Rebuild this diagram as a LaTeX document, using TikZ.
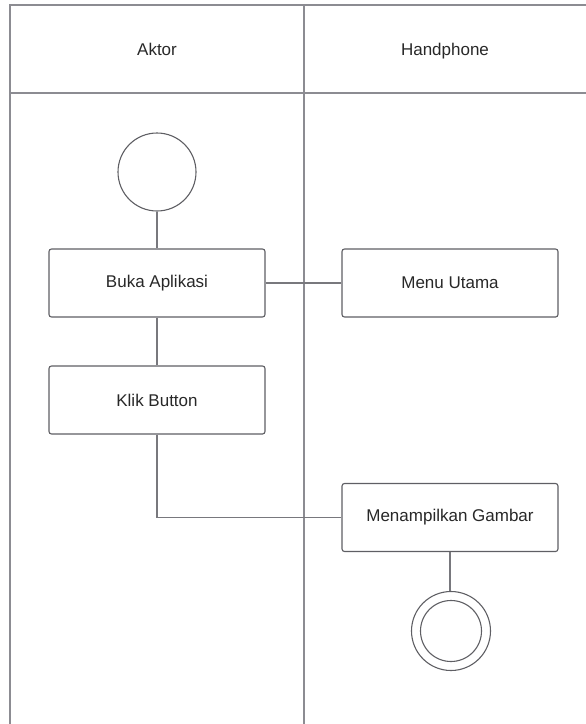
\documentclass[tikz,border=0pt]{standalone}
\usepackage{fontspec}
\setmainfont{Liberation Sans}
\definecolor{framegray}{RGB}{140,140,146}
\definecolor{boxgray}{RGB}{95,95,100}
\definecolor{linegray}{RGB}{120,120,125}
\definecolor{textgray}{RGB}{40,40,40}
\begin{document}
\begin{tikzpicture}[x=1pt,y=-1pt,
  frameline/.style={draw=framegray,line width=1.6pt},
  actbox/.style={draw=boxgray,line width=1.1pt,rounded corners=2.5pt,minimum width=216pt,minimum height=68pt,inner sep=0pt,font=\fontsize{17}{19}\selectfont,text=textgray,fill=white},
  conn/.style={draw=linegray,line width=1.4pt},
  lbl/.style={font=\fontsize{17}{19}\selectfont,text=textgray,inner sep=0pt,anchor=base}]
\useasboundingbox (0,0) rectangle (586,724);
% swimlane frame
\coordinate (tl) at (10,5);
\coordinate (tr) at (586,5);
\coordinate (hl) at (10,93);
\coordinate (hr) at (586,93);
\coordinate (bl) at (10,724);
\coordinate (dt) at (304,5);
\coordinate (db) at (304,724);
\draw[frameline] (bl) -- (tl) -- (tr);
\draw[frameline] (hl) -- (hr);
\draw[frameline] (dt) -- (db);
\node[lbl] (aktor) at (157,55) {Aktor};
\node[lbl] (hp) at (445,55) {Handphone};
% nodes
\node[draw=boxgray,line width=1.1pt,circle,minimum size=78pt,inner sep=0pt] (start) at (157,172) {};
\node[actbox] (buka) at (157,283) {Buka Aplikasi};
\node[actbox] (menu) at (450,283) {Menu Utama};
\node[actbox] (klik) at (157,400) {Klik Button};
\node[actbox] (gambar) at (450,517.5) {Menampilkan Gambar};
\node[draw=boxgray,line width=1.1pt,circle,minimum size=79pt,inner sep=0pt] (endo) at (451,631) {};
\node[draw=boxgray,line width=1.1pt,circle,minimum size=61pt,inner sep=0pt] (endi) at (451,631) {};
% connectors
\draw[conn] (start.south) -- (buka.north);
\draw[conn] (buka.east) -- (menu.west);
\draw[conn] (buka.south) -- (klik.north);
\draw[conn] (klik.south) |- (gambar.west);
\draw[conn] (gambar.south) -- (gambar.south |- endo.north);
\end{tikzpicture}
\end{document}
